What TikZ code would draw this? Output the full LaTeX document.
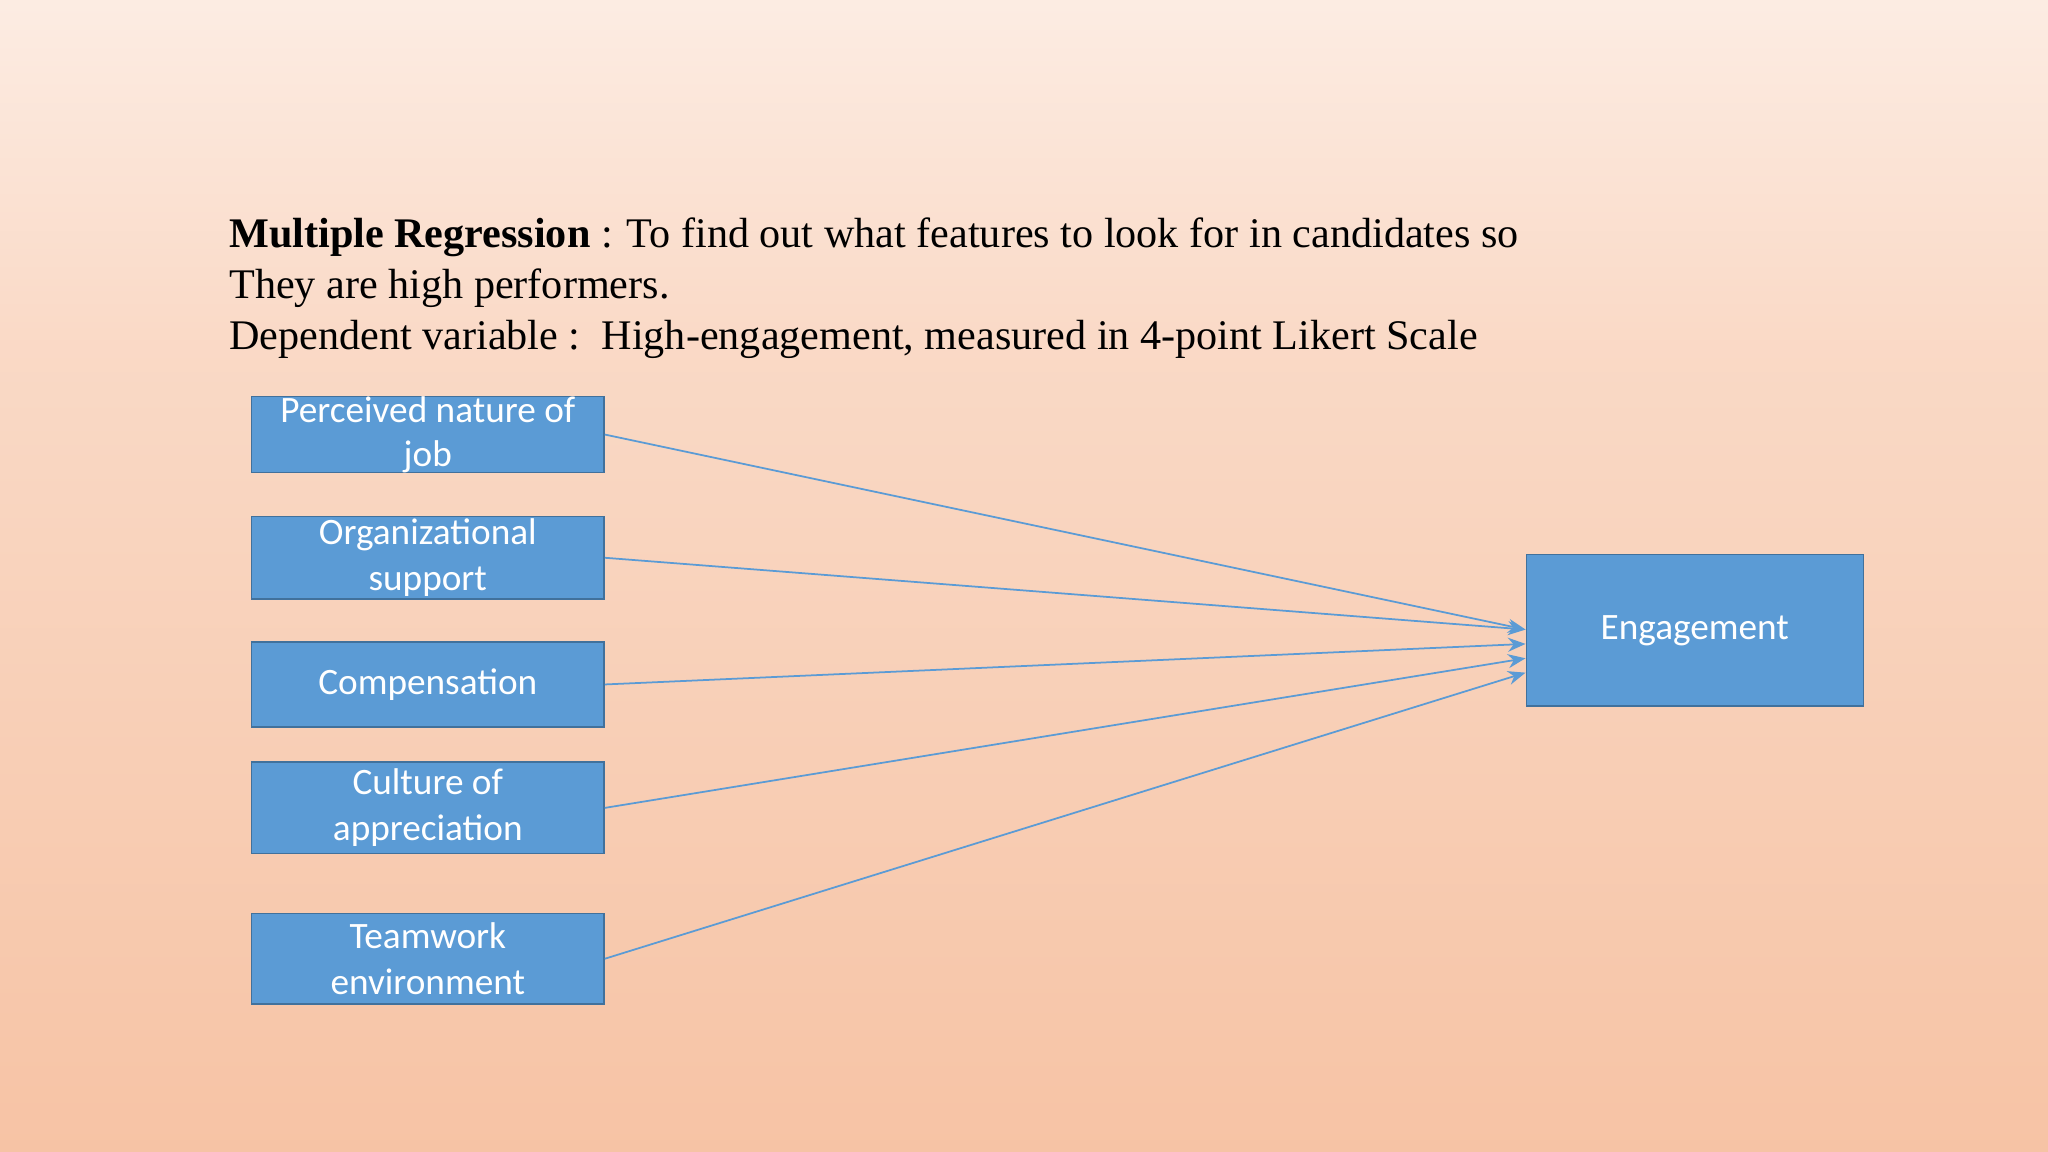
\documentclass[tikz,border=0pt]{standalone}
\usepackage{fontspec}
\setmainfont{Liberation Serif}
\newfontfamily\boxfont{Carlito}
\usetikzlibrary{arrows.meta}
\definecolor{boxblue}{HTML}{5B9BD5}
\definecolor{boxedge}{HTML}{41719C}
\definecolor{peach}{HTML}{F6C0A0}
\definecolor{peachlight}{HTML}{FAD3BC}
\pgfdeclareverticalshading{bgshade}{100bp}{color(0bp)=(peachlight); color(20bp)=(peach); color(60bp)=(peach!60!white); color(90bp)=(white); color(100bp)=(white)}
\begin{document}
\begin{tikzpicture}[x=0.013061cm,y=-0.013061cm,
  var/.style={draw=boxedge,fill=boxblue,text=white,font=\boxfont\fontsize{10.6}{13}\selectfont,align=center,inner sep=0pt,anchor=north west},
  conn/.style={boxblue,line width=0.5pt,-{Stealth[length=5pt,width=4pt]}}]
\shade[shading=bgshade] (0,0) rectangle (1568,882);
\useasboundingbox (0,0) rectangle (1568,882);
\node[anchor=north west,align=left,font=\fontsize{12}{14.5}\selectfont,inner sep=0pt] (title) at (175,166)
{\textbf{Multiple Regression} : To find out what features to look for in candidates so\\They are high performers.\\Dependent variable :\ \ High-engagement, measured in 4-point Likert Scale};
\node[var,minimum width=270*0.013061cm,minimum height=58*0.013061cm] (a) at (192,303) {Perceived nature of\\[-0.5pt]job};
\node[var,minimum width=270*0.013061cm,minimum height=63*0.013061cm] (b) at (192,395) {Organizational\\support};
\node[var,minimum width=270*0.013061cm,minimum height=65*0.013061cm] (c) at (192,491) {Compensation};
\node[var,minimum width=270*0.013061cm,minimum height=70*0.013061cm] (d) at (192,583) {Culture of\\appreciation};
\node[var,minimum width=270*0.013061cm,minimum height=69*0.013061cm] (e) at (192,699) {Teamwork\\environment};
\node[var,minimum width=258*0.013061cm,minimum height=116*0.013061cm] (g) at (1168,424) {Engagement};
\coordinate (g1) at (1168,482);
\coordinate (g2) at (1168,482);
\coordinate (g3) at (1168,493);
\coordinate (g4) at (1168,504);
\coordinate (g5) at (1168,515);
\draw[conn] (a.east) -- (g1);
\draw[conn] (b.east) -- (g2);
\draw[conn] (c.east) -- (g3);
\draw[conn] (d.east) -- (g4);
\draw[conn] (e.east) -- (g5);
\end{tikzpicture}
\end{document}
